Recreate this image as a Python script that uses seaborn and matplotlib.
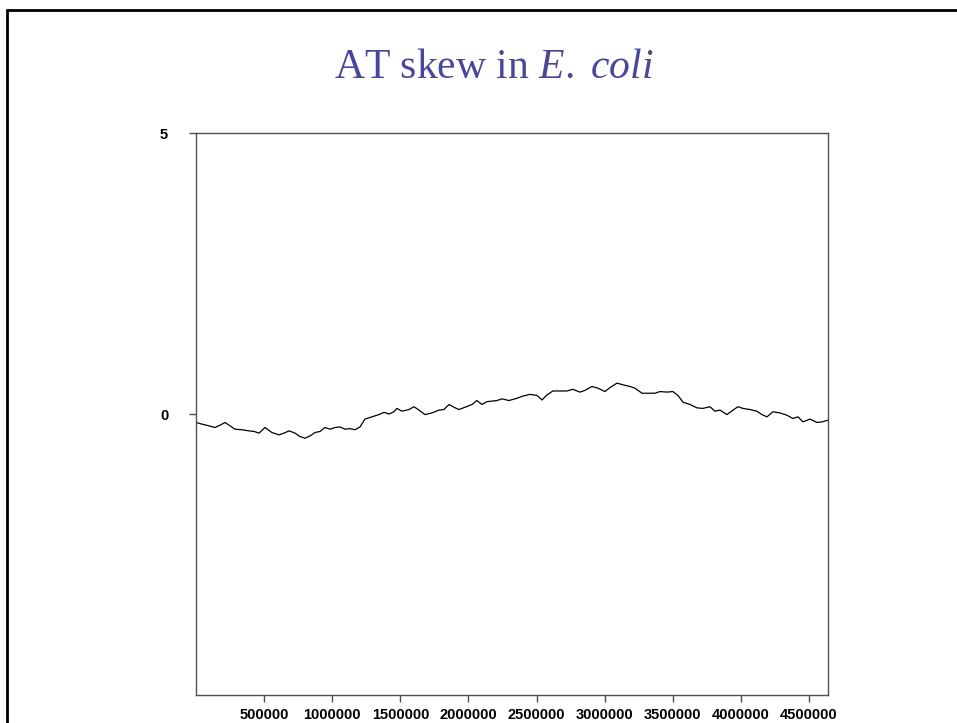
import matplotlib
matplotlib.use("Agg")
import matplotlib.pyplot as plt
from matplotlib.lines import Line2D
import seaborn as sns
import pandas as pd

# Genome position (bp) and cumulative AT skew
positions = [0, 44000, 95000, 139000, 176000, 213000, 250000, 286000, 338000, 389000,
             426000, 463000, 506000, 558000, 609000, 646000, 683000, 727000, 763000, 800000,
             837000, 873000, 910000, 947000, 984000, 1020000, 1057000, 1094000, 1130000, 1167000,
             1204000, 1240000, 1292000, 1343000, 1380000, 1417000, 1453000, 1475000, 1512000, 1563000,
             1600000, 1637000, 1681000, 1732000, 1784000, 1820000, 1857000, 1894000, 1930000, 1974000,
             2026000, 2062000, 2099000, 2136000, 2173000, 2209000, 2246000, 2297000, 2356000, 2400000,
             2452000, 2503000, 2540000, 2576000, 2620000, 2672000, 2723000, 2767000, 2818000, 2855000,
             2906000, 2951000, 3002000, 3039000, 3090000, 3134000, 3186000, 3222000, 3274000, 3318000,
             3369000, 3406000, 3457000, 3501000, 3538000, 3575000, 3626000, 3677000, 3721000, 3773000,
             3809000, 3846000, 3897000, 3942000, 3978000, 4015000, 4066000, 4117000, 4154000, 4191000,
             4235000, 4286000, 4337000, 4382000, 4419000, 4455000, 4507000, 4558000, 4595000, 4639000]
skew = [-0.15, -0.18, -0.21, -0.24, -0.20, -0.15, -0.21, -0.27, -0.28, -0.30,
        -0.31, -0.34, -0.24, -0.33, -0.37, -0.34, -0.30, -0.34, -0.40, -0.43,
        -0.39, -0.33, -0.31, -0.24, -0.27, -0.24, -0.23, -0.27, -0.26, -0.28,
        -0.23, -0.09, -0.05, -0.01, 0.03, 0.00, 0.04, 0.10, 0.05, 0.08,
        0.13, 0.07, -0.01, 0.02, 0.07, 0.08, 0.17, 0.12, 0.08, 0.12,
        0.17, 0.24, 0.17, 0.22, 0.23, 0.24, 0.27, 0.24, 0.28, 0.32,
        0.35, 0.33, 0.25, 0.34, 0.41, 0.41, 0.41, 0.44, 0.39, 0.42,
        0.49, 0.46, 0.40, 0.47, 0.55, 0.52, 0.49, 0.46, 0.37, 0.37,
        0.37, 0.40, 0.39, 0.40, 0.33, 0.21, 0.17, 0.11, 0.10, 0.13,
        0.05, 0.07, -0.01, 0.07, 0.13, 0.10, 0.08, 0.05, -0.01, -0.05,
        0.04, 0.02, -0.02, -0.08, -0.05, -0.14, -0.09, -0.15, -0.14, -0.11]

x_ticks = [500000, 1000000, 1500000, 2000000, 2500000, 3000000, 3500000, 4000000, 4500000]
y_ticks = [0, 5]
genome_length = 4639221
title_plain = "AT skew in "
title_italic = "E. coli"

sns.set_style("white")
plt.rcParams["mathtext.fontset"] = "custom"
plt.rcParams["mathtext.rm"] = "Liberation Serif"
plt.rcParams["mathtext.it"] = "Liberation Serif:italic"

df = pd.DataFrame({"pos": positions, "skew": skew})

fig = plt.figure(figsize=(9.57, 7.23), dpi=100)
ax = fig.add_axes([0.2048, 0.0387, 0.6604, 0.7773])
sns.lineplot(data=df, x="pos", y="skew", color="black", linewidth=0.9, ax=ax)

ax.set_xlim(0, genome_length)
ax.set_ylim(-5, 5)
ax.set_xticks(x_ticks)
ax.set_xticklabels([str(t) for t in x_ticks])
ax.set_yticks(y_ticks)
ax.set_yticklabels([str(t) for t in y_ticks])
ax.set_xlabel("")
ax.set_ylabel("")
for s in ax.spines.values():
    s.set_color("#505050")
    s.set_linewidth(1.0)
ax.tick_params(axis="x", direction="out", length=5, width=1, color="#505050", pad=4,
               labelsize=10.5, bottom=True)
ax.tick_params(axis="y", direction="out", length=5, width=1, color="#505050", pad=15,
               labelsize=10.5, left=True)
for lab in ax.get_xticklabels() + ax.get_yticklabels():
    lab.set_fontfamily("Liberation Sans")
    lab.set_fontweight("bold")
    lab.set_color("black")

fig.text(0.516, 0.906, title_plain + r"$\mathit{" + title_italic.replace(" ", r"\ ") + "}$",
         ha="center", va="center", fontsize=30, color="#4646a4", family="Liberation Serif")

# slide frame (top and left edges)
fig.add_artist(Line2D([0.0078, 1.0], [1 - 10 / 723, 1 - 10 / 723], transform=fig.transFigure,
                      color="black", linewidth=2.0))
fig.add_artist(Line2D([0.0078, 0.0078], [0.0, 1 - 10 / 723], transform=fig.transFigure,
                      color="black", linewidth=2.0))

fig.savefig("out.png", dpi=100)
